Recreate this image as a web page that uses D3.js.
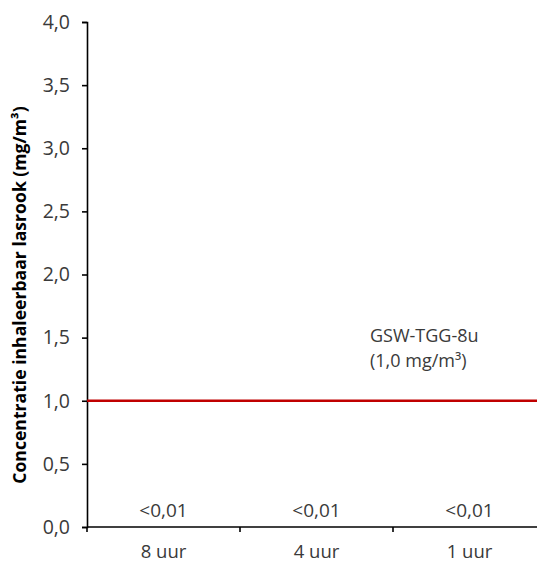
<!DOCTYPE html>
<html>
<head>
<meta charset="utf-8">
<script src="https://cdn.jsdelivr.net/npm/d3@7"></script>
<style>
  body { margin: 0; background: #fff; }
  text { font-family: "Open Sans", "Noto Sans", sans-serif; }
</style>
</head>
<body>
<svg id="chart"></svg>
<script>
var width = 537,
    height = 562;

// data
var categories = ['8 uur', '4 uur', '1 uur'];
var values = [0.005, 0.005, 0.005];
var valueLabels = ['<0,01', '<0,01', '<0,01'];
var yTicks = [0, 0.5, 1, 1.5, 2, 2.5, 3, 3.5, 4];
var limitValue = 1.0;
var limitLabel = ['GSW-TGG-8u', '(1,0 mg/m³)'];
var yTitle = 'Concentratie inhaleerbaar lasrook (mg/m³)';

var margin = {left: 87, top: 22, bottom: 35};

var svg = d3.select('#chart').attr('width', width).attr('height', height);

var x = d3.scaleBand()
  .domain(categories)
  .range([margin.left, margin.left + 3 * 153])
  .paddingInner(0).paddingOuter(0);

var y = d3.scaleLinear()
  .domain([0, 4])
  .range([height - margin.bottom, margin.top]);

var fmt = function(d){ return d3.format('.1f')(d).replace('.', ','); };

// y axis
var yAxis = svg.append('g')
  .attr('transform', 'translate(' + margin.left + ',0)')
  .call(d3.axisLeft(y).tickValues(yTicks).tickFormat(fmt).tickSize(5).tickPadding(12).tickSizeOuter(5));
yAxis.select('.domain').attr('stroke', '#000').attr('stroke-width', 1.6);
yAxis.selectAll('.tick line').attr('stroke', '#000').attr('stroke-width', 1.6);
yAxis.selectAll('.tick text')
  .attr('font-size', 19.5)
  .attr('fill', '#3a3a3a')
  .attr('font-family', '"Open Sans", sans-serif');

// x axis
var xAxis = svg.append('g')
  .attr('transform', 'translate(0,' + y(0) + ')');
xAxis.append('line')
  .attr('x1', x.range()[0]).attr('x2', x.range()[1])
  .attr('stroke', '#000').attr('stroke-width', 1.6);
xAxis.selectAll('.sep')
  .data(categories)
  .enter().append('line')
  .attr('class', 'sep')
  .attr('x1', function(d){ return x(d); })
  .attr('x2', function(d){ return x(d); })
  .attr('y1', 0).attr('y2', 5)
  .attr('stroke', '#000').attr('stroke-width', 1.6);
xAxis.selectAll('.cat')
  .data(categories)
  .enter().append('text')
  .attr('class', 'cat')
  .attr('x', function(d){ return x(d) + x.bandwidth() / 2; })
  .attr('y', 31)
  .attr('text-anchor', 'middle')
  .attr('font-size', 18.5)
  .attr('fill', '#3a3a3a')
  .text(function(d){ return d; });

// value labels
svg.selectAll('.vlab')
  .data(categories)
  .enter().append('text')
  .attr('class', 'vlab')
  .attr('x', function(d){ return x(d) + x.bandwidth() / 2; })
  .attr('y', function(d, i){ return y(values[i]) - 9; })
  .attr('text-anchor', 'middle')
  .attr('font-size', 19)
  .attr('fill', '#3a3a3a')
  .text(function(d, i){ return valueLabels[i]; });

// limit line
svg.append('line')
  .attr('x1', margin.left).attr('x2', width)
  .attr('y1', y(limitValue)).attr('y2', y(limitValue))
  .attr('stroke', '#C00000').attr('stroke-width', 2.6);

// limit label, one text per line
svg.selectAll('.lim')
  .data(limitLabel)
  .enter().append('text')
  .attr('class', 'lim')
  .attr('x', 370)
  .attr('y', function(d, i){ return 342 + i * 24.5; })
  .attr('font-size', 18)
  .attr('fill', '#3a3a3a')
  .text(function(d){ return d; });

// y title
svg.append('text')
  .attr('transform', 'translate(26,295) rotate(-90)')
  .attr('text-anchor', 'middle')
  .attr('font-size', 17.6)
  .attr('font-weight', 'bold')
  .attr('fill', '#000')
  .text(yTitle);
</script>
</body>
</html>
